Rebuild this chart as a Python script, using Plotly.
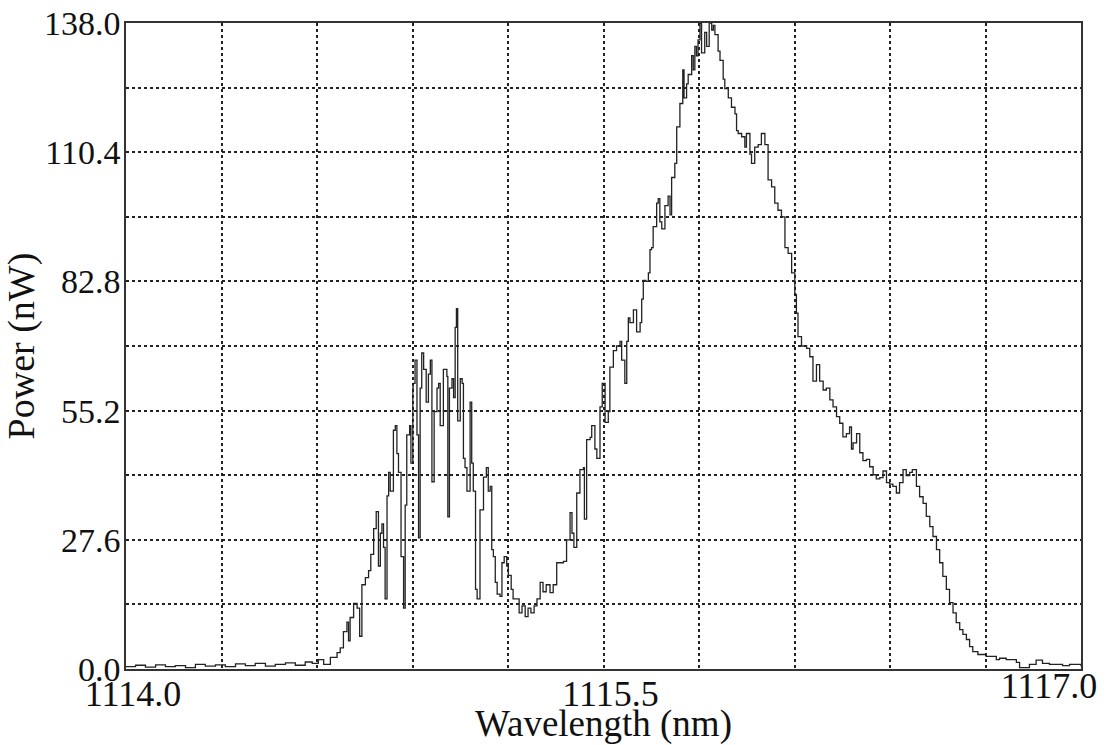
import plotly.graph_objects as go

wavelength_nm = [
    1114.000, 1114.030, 1114.061, 1114.093, 1114.124, 1114.155, 1114.187, 1114.218, 1114.249, 1114.281,
    1114.312, 1114.344, 1114.375, 1114.406, 1114.438, 1114.469, 1114.501, 1114.532, 1114.563, 1114.585,
    1114.604, 1114.621, 1114.642, 1114.663, 1114.673, 1114.683, 1114.694, 1114.699, 1114.704, 1114.715,
    1114.726, 1114.734, 1114.741, 1114.752, 1114.762, 1114.769, 1114.778, 1114.786, 1114.793, 1114.799,
    1114.804, 1114.809, 1114.814, 1114.820, 1114.825, 1114.830, 1114.840, 1114.846, 1114.851, 1114.856,
    1114.864, 1114.872, 1114.877, 1114.882, 1114.891, 1114.895, 1114.901, 1114.902, 1114.908, 1114.914,
    1114.919, 1114.924, 1114.929, 1114.935, 1114.943, 1114.950, 1114.956, 1114.961, 1114.968, 1114.977,
    1114.982, 1114.987, 1114.997, 1115.008, 1115.011, 1115.016, 1115.024, 1115.029, 1115.034, 1115.038,
    1115.042, 1115.050, 1115.056, 1115.060, 1115.065, 1115.071, 1115.081, 1115.086, 1115.091, 1115.098,
    1115.103, 1115.112, 1115.123, 1115.132, 1115.138, 1115.144, 1115.149, 1115.154, 1115.160, 1115.166,
    1115.175, 1115.181, 1115.188, 1115.196, 1115.201, 1115.210, 1115.216, 1115.228, 1115.235, 1115.244,
    1115.254, 1115.263, 1115.272, 1115.282, 1115.291, 1115.301, 1115.310, 1115.320, 1115.332, 1115.342,
    1115.353, 1115.363, 1115.374, 1115.384, 1115.395, 1115.401, 1115.407, 1115.416, 1115.426, 1115.437,
    1115.440, 1115.447, 1115.458, 1115.463, 1115.473, 1115.479, 1115.489, 1115.496, 1115.505, 1115.515,
    1115.520, 1115.531, 1115.541, 1115.552, 1115.557, 1115.567, 1115.573, 1115.578, 1115.583, 1115.594,
    1115.604, 1115.615, 1115.620, 1115.625, 1115.633, 1115.641, 1115.646, 1115.651, 1115.656, 1115.667,
    1115.672, 1115.677, 1115.683, 1115.693, 1115.703, 1115.709, 1115.714, 1115.724, 1115.730, 1115.740,
    1115.749, 1115.753, 1115.761, 1115.766, 1115.777, 1115.782, 1115.787, 1115.792, 1115.797, 1115.803,
    1115.808, 1115.818, 1115.824, 1115.832, 1115.840, 1115.845, 1115.850, 1115.860, 1115.866, 1115.876,
    1115.881, 1115.892, 1115.902, 1115.913, 1115.918, 1115.923, 1115.934, 1115.944, 1115.949, 1115.960,
    1115.965, 1115.975, 1115.986, 1115.996, 1116.007, 1116.017, 1116.028, 1116.038, 1116.048, 1116.059,
    1116.070, 1116.080, 1116.091, 1116.101, 1116.106, 1116.111, 1116.122, 1116.138, 1116.148, 1116.158,
    1116.169, 1116.179, 1116.190, 1116.200, 1116.211, 1116.221, 1116.232, 1116.242, 1116.252, 1116.263,
    1116.273, 1116.279, 1116.284, 1116.295, 1116.305, 1116.315, 1116.326, 1116.336, 1116.347, 1116.357,
    1116.368, 1116.378, 1116.389, 1116.399, 1116.409, 1116.420, 1116.430, 1116.441, 1116.451, 1116.462,
    1116.470, 1116.483, 1116.493, 1116.504, 1116.514, 1116.525, 1116.535, 1116.546, 1116.556, 1116.566,
    1116.577, 1116.587, 1116.598, 1116.608, 1116.619, 1116.629, 1116.640, 1116.650, 1116.660, 1116.676,
    1116.702, 1116.734, 1116.744, 1116.765, 1116.797, 1116.807, 1116.838, 1116.859, 1116.879, 1116.901,
    1116.942, 1116.964, 1117.000,
]

power_nw = [
    0.5, 0.8, 0.4, 0.9, 0.5, 0.7, 0.3, 1.0, 0.6, 0.9,
    0.5, 1.1, 0.7, 1.2, 0.6, 1.0, 1.3, 0.8, 1.5, 1.2,
    2.0, 1.0, 2.5, 3.5, 4.5, 8.0, 10.0, 6.0, 11.0, 14.0,
    13.0, 7.0, 18.0, 19.5, 21.0, 24.5, 30.0, 33.6, 22.0, 29.0,
    31.0, 26.0, 15.0, 37.0, 42.0, 38.0, 51.0, 52.0, 46.0, 42.0,
    24.0, 13.0, 35.0, 50.0, 52.0, 44.0, 60.0, 61.0, 66.0, 50.0,
    28.0, 60.0, 67.5, 64.0, 57.0, 63.0, 66.0, 40.0, 55.0, 60.0,
    61.0, 52.0, 64.0, 62.5, 32.5, 60.0, 62.0, 58.0, 73.0, 77.0,
    53.0, 62.0, 61.0, 45.0, 43.0, 38.0, 57.0, 44.0, 38.0, 17.0,
    15.0, 34.0, 41.0, 43.0, 38.0, 39.0, 25.5, 24.0, 18.5, 16.0,
    15.5, 22.7, 24.0, 22.0, 20.0, 17.0, 15.0, 15.0, 12.0, 13.5,
    11.2, 13.0, 12.0, 13.5, 15.0, 18.5, 16.5, 18.0, 16.3, 18.0,
    22.7, 22.7, 23.0, 27.6, 33.4, 29.0, 26.0, 37.6, 42.6, 43.0,
    32.0, 49.0, 49.5, 52.0, 47.0, 45.0, 56.0, 61.0, 52.7, 55.0,
    64.5, 68.0, 69.0, 70.0, 66.0, 61.0, 70.0, 75.0, 74.0, 76.7,
    72.0, 74.0, 79.0, 83.0, 82.8, 84.6, 89.6, 90.0, 94.5, 99.5,
    100.5, 95.5, 94.0, 99.0, 101.0, 97.0, 105.0, 108.0, 115.8, 120.8,
    128.0, 122.0, 125.0, 127.0, 131.0, 128.0, 133.0, 131.0, 134.4, 138.0,
    131.6, 136.0, 133.0, 138.0, 136.5, 137.5, 135.5, 132.0, 130.0, 126.0,
    124.0, 122.0, 120.0, 118.6, 115.0, 114.4, 113.7, 111.5, 114.4, 110.0,
    108.0, 111.5, 112.0, 114.4, 112.0, 104.5, 103.0, 99.5, 98.0, 96.6,
    90.0, 88.8, 84.6, 80.0, 76.0, 71.0, 69.0, 68.5, 66.7, 61.5,
    65.0, 61.5, 59.6, 60.0, 57.5, 56.0, 53.9, 52.5, 49.6, 50.3,
    51.7, 47.0, 48.3, 50.3, 46.2, 44.5, 44.8, 43.2, 41.5, 40.6,
    40.9, 42.3, 39.8, 39.5, 39.0, 37.6, 39.8, 42.6, 41.3, 42.0,
    42.6, 39.0, 36.8, 35.4, 32.6, 30.4, 28.3, 25.5, 22.7, 19.8,
    17.0, 14.2, 12.0, 9.9, 8.4, 7.4, 6.3, 4.8, 3.7, 3.1,
    2.7, 2.0, 2.3, 2.0, 1.4, 0.3, 1.0, 1.9, 1.2, 1.0,
    0.7, 1.0, 0.6,
]

x_grid = [1114.0, 1114.3, 1114.6, 1114.9, 1115.2, 1115.5, 1115.8, 1116.1, 1116.4, 1116.7, 1117.0]
x_labels = ["1114.0", "", "", "", "", "1115.5", "", "", "", "", ""]
x_end_tick = [1117.0]
x_end_label = ["1117.0"]
y_grid = [0.0, 13.8, 27.6, 41.4, 55.2, 69.0, 82.8, 96.6, 110.4, 124.2, 138.0]
y_labels = ["0.0", "", "27.6", "", "55.2", "", "82.8", "", "110.4", "", "138.0"]

serif = "Liberation Serif, Times New Roman, serif"
x_range = [1114.0, 1117.0]

fig = go.Figure()
fig.add_trace(go.Scatter(
    x=wavelength_nm, y=power_nw, mode="lines",
    line=dict(color="#222222", width=1.3, shape="hv"),
    showlegend=False, hoverinfo="x+y",
))
# empty helper trace so the overlaid label axis is created
fig.add_trace(go.Scatter(x=[], y=[], xaxis="x2", yaxis="y", mode="lines",
                         showlegend=False, hoverinfo="skip"))

axis_common = dict(
    showline=True, linecolor="#333333", linewidth=1.5, mirror=True,
    showgrid=True, gridcolor="#222222", gridwidth=1.5, griddash="dot",
    zeroline=False, ticks="", ticklabeloverflow="allow",
)

xtickfont = dict(family=serif, size=36, color="#111111")

fig.update_layout(
    xaxis=dict(
        range=x_range, tickmode="array", tickvals=x_grid, ticktext=x_labels,
        tickfont=xtickfont, ticklabelstandoff=-8, ticklabelshift=7,
        title=dict(text="Wavelength (nm)", font=dict(family=serif, size=37, color="#111111"), standoff=0),
        **axis_common,
    ),
    xaxis2=dict(
        overlaying="x", anchor="y", side="bottom", range=x_range,
        tickmode="array", tickvals=x_end_tick, ticktext=x_end_label,
        tickfont=xtickfont, ticklabelstandoff=-8, ticklabelshift=-32,
        ticklabeloverflow="allow", showgrid=False, showline=False, zeroline=False, ticks="",
    ),
    yaxis=dict(
        range=[0.0, 138.0], tickmode="array", tickvals=y_grid, ticktext=y_labels,
        tickfont=dict(family=serif, size=34, color="#111111"), ticklabelstandoff=-3,
        title=dict(text="Power (nW)", font=dict(family=serif, size=38, color="#111111"), standoff=0),
        **axis_common,
    ),
    width=1106, height=745,
    margin=dict(l=125.5, r=24.5, t=23, b=75.5, autoexpand=False),
    paper_bgcolor="white", plot_bgcolor="white",
)

fig.write_html(
    "out.html",
    config={"displayModeBar": False},
    post_script="document.body.style.margin='0';document.body.style.overflow='hidden';",
)
